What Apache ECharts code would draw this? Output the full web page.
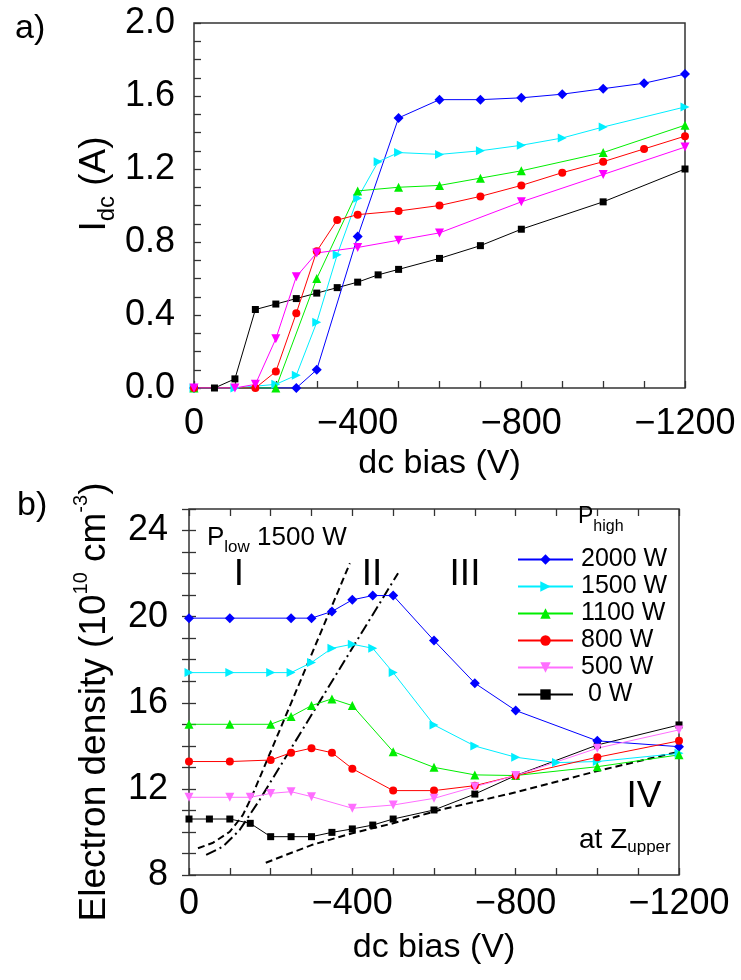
<!DOCTYPE html>
<html><head><meta charset="utf-8">
<script src="https://cdn.jsdelivr.net/npm/echarts@6/dist/echarts.min.js"></script>
<style>html,body{margin:0;padding:0;background:#fff}#c{width:741px;height:980px}</style>
</head><body><div id="c"></div>
<script>
const FONT = '"Liberation Sans", Arial, Helvetica, sans-serif';

// ---------- Panel a) I_dc (A) vs dc bias (V) ----------
const a_2000_x = [0, -250, -300, -400, -500, -600, -700, -800, -900, -1000, -1100, -1200];
const a_2000_y = [0, 0, 0.10, 0.83, 1.48, 1.58, 1.58, 1.59, 1.61, 1.64, 1.67, 1.72];
const a_1500_x = [0, -100, -200, -250, -300, -350, -400, -450, -500, -600, -700, -800, -900, -1000, -1200];
const a_1500_y = [0, 0, 0.02, 0.07, 0.36, 0.73, 1.04, 1.24, 1.29, 1.28, 1.30, 1.33, 1.37, 1.43, 1.54];
const a_1100_x = [0, -200, -300, -400, -500, -600, -700, -800, -1000, -1200];
const a_1100_y = [0, 0, 0.60, 1.08, 1.10, 1.11, 1.15, 1.19, 1.29, 1.44];
const a_800_x = [0, -150, -200, -250, -300, -350, -400, -500, -600, -700, -800, -900, -1000, -1100, -1200];
const a_800_y = [0, 0, 0.09, 0.41, 0.75, 0.92, 0.95, 0.97, 1.00, 1.05, 1.11, 1.18, 1.24, 1.31, 1.38];
const a_500_x = [0, -100, -150, -200, -250, -300, -400, -500, -600, -800, -1000, -1200];
const a_500_y = [0, 0, 0.02, 0.27, 0.61, 0.74, 0.77, 0.81, 0.85, 1.02, 1.17, 1.32];
const a_0_x = [0, -50, -100, -150, -200, -250, -300, -350, -400, -450, -500, -600, -700, -800, -1000, -1200];
const a_0_y = [0, 0, 0.05, 0.43, 0.46, 0.49, 0.52, 0.55, 0.58, 0.62, 0.65, 0.71, 0.78, 0.87, 1.02, 1.20];

// ---------- Panel b) Electron density (1e10 cm^-3) vs dc bias (V) ----------
const b_2000_x = [0, -100, -250, -300, -350, -400, -450, -500, -600, -700, -800, -1000, -1200];
const b_2000_y = [19.93, 19.93, 19.93, 19.93, 20.24, 20.78, 20.98, 20.98, 18.89, 16.91, 15.64, 14.23, 13.96];
const b_1500_x = [0, -100, -200, -250, -300, -350, -400, -450, -500, -600, -700, -800, -900, -1000, -1200];
const b_1500_y = [17.40, 17.40, 17.40, 17.40, 17.87, 18.53, 18.72, 18.53, 17.40, 14.97, 13.99, 13.47, 13.22, 13.27, 13.65];
const b_1100_x = [0, -100, -200, -250, -300, -350, -400, -500, -600, -700, -800, -1000, -1200];
const b_1100_y = [15.00, 15.00, 15.00, 15.36, 15.87, 16.18, 15.87, 13.73, 13.00, 12.65, 12.62, 13.03, 13.58];
const b_800_x = [0, -100, -200, -250, -300, -350, -400, -500, -600, -700, -800, -1000, -1200];
const b_800_y = [13.27, 13.27, 13.34, 13.68, 13.89, 13.68, 12.94, 11.92, 11.92, 12.15, 12.62, 13.47, 14.23];
const b_500_x = [0, -100, -150, -200, -250, -300, -400, -500, -600, -700, -800, -1000, -1200];
const b_500_y = [11.61, 11.61, 11.61, 11.79, 11.87, 11.64, 11.10, 11.25, 11.56, 12.10, 12.62, 13.89, 14.74];
const b_0_x = [0, -50, -100, -150, -200, -250, -300, -350, -400, -450, -500, -600, -700, -800, -1000, -1200];
const b_0_y = [10.60, 10.60, 10.60, 10.40, 9.78, 9.78, 9.78, 9.98, 10.14, 10.32, 10.60, 11.02, 11.76, 12.62, 14.04, 14.97];

// guide lines (region boundaries) in panel b
const guideDash_x = [-22, -59, -100, -132, -153, -394];
const guideDash_y = [9.24, 9.50, 10.01, 10.79, 11.61, 22.48];
const guideDashDot_x = [-42, -83, -124, -173, -512];
const guideDashDot_y = [8.93, 9.32, 10.09, 11.49, 22.02];
const guideLow_x = [-188, -300, -400, -500, -614, -800, -1000, -1200];
const guideLow_y = [8.57, 9.39, 9.94, 10.40, 11.02, 11.84, 12.83, 13.73];

// legend names
const names = ['2000 W', '1500 W', '1100 W', '800 W', '500 W', ' 0 W'];
const xTickLabels = {0: '0', '-400': '\u2212400', '-800': '\u2212800', '-1200': '\u22121200'};

const pairs = (xs, ys) => xs.map((x, i) => [x, ys[i]]);

const styles = {
  '2000 W': {color: '#0000ff', symbol: 'diamond', size: 10, rot: 0},
  '1500 W': {color: '#00eeff', symbol: 'triangle', size: 9, rot: -90},
  '1100 W': {color: '#00ee00', symbol: 'triangle', size: 9, rot: 0},
  '800 W':  {color: '#ff0000', symbol: 'circle', size: 8, rot: 0},
  '500 W':  {color: '#ff00ff', symbol: 'triangle', size: 9, rot: 180},
  ' 0 W':   {color: '#000000', symbol: 'rect', size: 7, rot: 0}
};

function mk(name, xs, ys, g, colorOverride) {
  const s = styles[name];
  const c = colorOverride || s.color;
  return {
    type: 'line', name, xAxisIndex: g === 0 ? 0 : 1, yAxisIndex: g === 0 ? 0 : 1,
    data: pairs(xs, ys), symbol: s.symbol, symbolSize: s.size, symbolRotate: s.rot,
    lineStyle: {color: c, width: 1}, itemStyle: {color: c, borderWidth: 0},
    showSymbol: true, animation: false, z: 3
  };
}
function guide(xs, ys, dash, width) {
  return {
    type: 'line', name: 'guide', xAxisIndex: 1, yAxisIndex: 1, data: pairs(xs, ys),
    symbol: 'none', lineStyle: {color: '#000', width: width, type: dash},
    animation: false, silent: true, z: 2
  };
}

const series = [
  // panel b first so legend icons use its styles
  mk(' 0 W', b_0_x, b_0_y, 1),
  mk('2000 W', b_2000_x, b_2000_y, 1),
  mk('1500 W', b_1500_x, b_1500_y, 1),
  mk('1100 W', b_1100_x, b_1100_y, 1),
  mk('800 W', b_800_x, b_800_y, 1),
  mk('500 W', b_500_x, b_500_y, 1, '#ff6eff'),
  guide(guideDash_x, guideDash_y, [7, 4], 2),
  guide(guideDashDot_x, guideDashDot_y, [11, 4, 2, 4], 2),
  guide(guideLow_x, guideLow_y, [7, 4], 2),
  mk(' 0 W', a_0_x, a_0_y, 0),
  mk('2000 W', a_2000_x, a_2000_y, 0),
  mk('1500 W', a_1500_x, a_1500_y, 0),
  mk('1100 W', a_1100_x, a_1100_y, 0),
  mk('800 W', a_800_x, a_800_y, 0),
  mk('500 W', a_500_x, a_500_y, 0)
];

const axColor = '#333';
const tick = {inside: true, length: 7, lineStyle: {color: axColor, width: 1.3}};
const xfmt = v => (xTickLabels[String(Math.round(v))] !== undefined ? xTickLabels[String(Math.round(v))] : '');
const labelStyle = {color: '#000', fontSize: 36, fontFamily: FONT};
const nameStyle = {color: '#000', fontSize: 34, fontFamily: FONT};

function xAx(g, margin, gap) {
  return {
    gridIndex: g, type: 'value', min: -1200, max: 0, interval: 100, inverse: true,
    axisLine: {show: false}, splitLine: {show: false}, axisTick: tick,
    axisLabel: Object.assign({formatter: xfmt, margin: margin}, labelStyle),
    name: 'dc bias (V)', nameLocation: 'middle', nameGap: gap, nameTextStyle: nameStyle
  };
}

const option = {
  backgroundColor: '#fff',
  animation: false,
  textStyle: {fontFamily: FONT},
  grid: [
    {left: 194, top: 23, width: 491, height: 365, show: true, borderColor: axColor, borderWidth: 1.5, backgroundColor: 'transparent'},
    {left: 189, top: 509, width: 490, height: 366, show: true, borderColor: axColor, borderWidth: 1.5, backgroundColor: 'transparent'}
  ],
  xAxis: [
    xAx(0, 18, 59),
    xAx(1, 11, 56),
    {gridIndex: 1, type: 'value', position: 'top', min: -1200, max: 0, interval: 100, inverse: true,
     axisLine: {show: false}, splitLine: {show: false}, axisTick: tick, axisLabel: {show: false}}
  ],
  yAxis: [
    {gridIndex: 0, type: 'value', min: 0, max: 2, interval: 0.1,
     axisLine: {show: false}, splitLine: {show: false}, axisTick: tick,
     axisLabel: Object.assign({margin: 19, formatter: v => { const r = Math.round(v * 10); return r % 4 === 0 ? (r / 10).toFixed(1) : ''; }}, labelStyle)},
    {gridIndex: 1, type: 'value', min: 8, max: 25, interval: 1,
     axisLine: {show: false}, splitLine: {show: false}, axisTick: tick,
     axisLabel: Object.assign({margin: 21, formatter: v => (Math.round(v) % 4 === 0 && v < 25 ? String(Math.round(v)) : '')}, labelStyle)},
    {gridIndex: 1, type: 'value', position: 'right', min: 8, max: 25, interval: 1,
     axisLine: {show: false}, splitLine: {show: false}, axisTick: tick, axisLabel: {show: false}}
  ],
  legend: {
    data: names, orient: 'vertical', left: 512, top: 542, selectedMode: false,
    itemWidth: 55, itemHeight: 13, itemGap: 2,
    textStyle: {fontSize: 25, lineHeight: 25, color: '#000', fontFamily: FONT, padding: [0, 0, 0, 3]}
  },
  graphic: [
    {type: 'text', x: 15, y: 29, style: {text: 'a)', fontSize: 34, fontFamily: FONT, fill: '#000', align: 'left', verticalAlign: 'middle'}},
    {type: 'text', x: 17, y: 506, style: {text: 'b)', fontSize: 34, fontFamily: FONT, fill: '#000', align: 'left', verticalAlign: 'middle'}},
    {type: 'text', x: 95, y: 184, rotation: Math.PI / 2,
     style: {text: '{m|I}{s|dc}{m| (A)}', align: 'center', verticalAlign: 'middle', fill: '#000',
       rich: {m: {fontSize: 37, lineHeight: 60, fontFamily: FONT, fill: '#000'},
              s: {fontSize: 24, padding: [25, 0, 0, 0], fontFamily: FONT, fill: '#000'}}}},
    {type: 'text', x: 95, y: 702, rotation: Math.PI / 2,
     style: {text: '{m|Electron density (10}{p|10}{m| cm}{p|-3}{m|)}', align: 'center', verticalAlign: 'middle', fill: '#000',
       rich: {m: {fontSize: 37, lineHeight: 60, fontFamily: FONT, fill: '#000'},
              p: {fontSize: 20, padding: [0, 0, 28, 0], fontFamily: FONT, fill: '#000'}}}},
    {type: 'text', x: 207, y: 538,
     style: {text: '{m|P}{s|low}{m| 1500 W}', align: 'left', verticalAlign: 'middle', fill: '#000',
       rich: {m: {fontSize: 26, lineHeight: 40, fontFamily: FONT, fill: '#000'},
              s: {fontSize: 17, padding: [19, 0, 0, 0], fontFamily: FONT, fill: '#000'}}}},
    {type: 'text', x: 239, y: 575, style: {text: 'I', fontSize: 37, fontFamily: FONT, fill: '#000', align: 'center', verticalAlign: 'middle'}},
    {type: 'text', x: 372, y: 575, style: {text: 'II', fontSize: 37, fontFamily: FONT, fill: '#000', align: 'center', verticalAlign: 'middle'}},
    {type: 'text', x: 465, y: 575, style: {text: 'III', fontSize: 37, fontFamily: FONT, fill: '#000', align: 'center', verticalAlign: 'middle'}},
    {type: 'text', x: 644, y: 797, style: {text: 'IV', fontSize: 37, fontFamily: FONT, fill: '#000', align: 'center', verticalAlign: 'middle'}},
    {type: 'text', x: 579, y: 840,
     style: {text: '{m|at Z}{s|upper}', align: 'left', verticalAlign: 'middle', fill: '#000',
       rich: {m: {fontSize: 28, lineHeight: 40, fontFamily: FONT, fill: '#000'},
              s: {fontSize: 17, padding: [14, 0, 0, 0], fontFamily: FONT, fill: '#000'}}}},
    {type: 'text', x: 578, y: 517,
     style: {text: '{m|P}{s|high}', align: 'left', verticalAlign: 'middle', fill: '#000',
       rich: {m: {fontSize: 23, lineHeight: 40, fontFamily: FONT, fill: '#000'},
              s: {fontSize: 16, padding: [19, 0, 0, 0], fontFamily: FONT, fill: '#000'}}}}
  ],
  series: series
};

const chart = echarts.init(document.getElementById('c'), null, {renderer: 'canvas'});
chart.setOption(option);
</script>
</body></html>
